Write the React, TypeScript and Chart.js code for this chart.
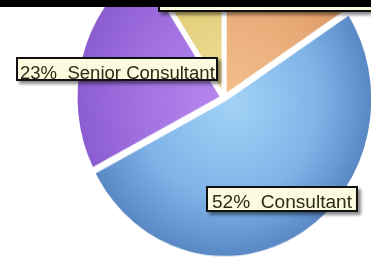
import React, { useEffect, useRef } from "react";
import { Chart, registerables } from "chart.js";

Chart.register(...registerables);

// ---- data ----
const categories = ["Manager", "Consultant", "Senior Consultant", "Analyst"];
const shares = [15.8, 51.6, 23.4, 9.2];

// ---- styles ----
const sliceColors = [
  ["#f2c08e", "#e9ab78", "#d99664"],
  ["#a2d2f6", "#80b4e8", "#5786c3"],
  ["#b98bef", "#a171e1", "#8a5bcf"],
  ["#efe19c", "#e4cf7c", "#cdb55c"],
];

const labelBoxes = [
  { index: 2, left: 16, top: 57, width: 202, height: 24, textLeft: 2, textTop: 5, scale: 1.03 },
  { index: 1, left: 206, top: 186, width: 152, height: 26, textLeft: 4, textTop: 5, scale: 1.06 },
  { index: 0, left: 158, top: -20, width: 240, height: 32, textLeft: 4, textTop: 5, scale: 1.03 },
];

const CANVAS_W = 448;
const CANVAS_H = 340;
const STRETCH_Y = 1.07;

export default function App() {
  const canvasRef = useRef<HTMLCanvasElement | null>(null);

  useEffect(() => {
    const canvas = canvasRef.current;
    if (!canvas) return;
    const chart = new Chart(canvas, {
      type: "pie",
      data: {
        labels: categories,
        datasets: [
          {
            data: shares,
            radius: 147,
            borderColor: "#ffffff",
            borderWidth: 4,
            offset: 6,
            backgroundColor: (ctx: any) => {
              const c = sliceColors[ctx.dataIndex % sliceColors.length];
              const area = ctx.chart.chartArea;
              if (!area) return c[1];
              const cx = (area.left + area.right) / 2;
              const cy = (area.top + area.bottom) / 2;
              const g = ctx.chart.ctx.createRadialGradient(cx + 10, cy + 5, 0, cx, cy, 150);
              g.addColorStop(0, c[0]);
              g.addColorStop(0.6, c[1]);
              g.addColorStop(1, c[2]);
              return g;
            },
          } as any,
        ],
      },
      options: {
        responsive: false,
        animation: false,
        layout: { padding: 0 },
        plugins: {
          legend: { display: false },
          tooltip: { enabled: false },
        },
      },
    });
    return () => chart.destroy();
  }, []);

  return (
    <div
      style={{
        position: "fixed",
        left: 0,
        top: 0,
        width: 371,
        height: 259,
        overflow: "hidden",
        background: "#ffffff",
      }}
    >
      <div
        style={{
          position: "absolute",
          left: 0,
          top: -84,
          width: CANVAS_W,
          height: CANVAS_H,
          transform: `scaleY(${STRETCH_Y})`,
          transformOrigin: "0 0",
        }}
      >
        <canvas ref={canvasRef} width={CANVAS_W} height={CANVAS_H} />
      </div>
      {labelBoxes.map((b) => (
        <div
          key={b.index}
          style={{
            position: "absolute",
            left: b.left,
            top: b.top,
            width: b.width,
            height: b.height,
            boxSizing: "border-box",
            border: "2px solid #111",
            background: "#fcfbdf",
            boxShadow: "3px 3px 3px rgba(0,0,0,0.45)",
            overflow: "hidden",
          }}
        >
          <div
            style={{
              position: "absolute",
              left: b.textLeft,
              top: b.textTop,
              fontFamily: "'Liberation Sans', Arial, sans-serif",
              fontSize: 18,
              lineHeight: "18px",
              color: "#2c2c14",
              whiteSpace: "pre",
              transform: `scaleX(${b.scale})`,
              transformOrigin: "0 0",
            }}
          >
            {`${Math.round(shares[b.index])}%  ${categories[b.index]}`}
          </div>
        </div>
      ))}
      <div
        style={{
          position: "absolute",
          left: 0,
          top: 0,
          width: 371,
          height: 7,
          background: "#000",
        }}
      />
    </div>
  );
}
